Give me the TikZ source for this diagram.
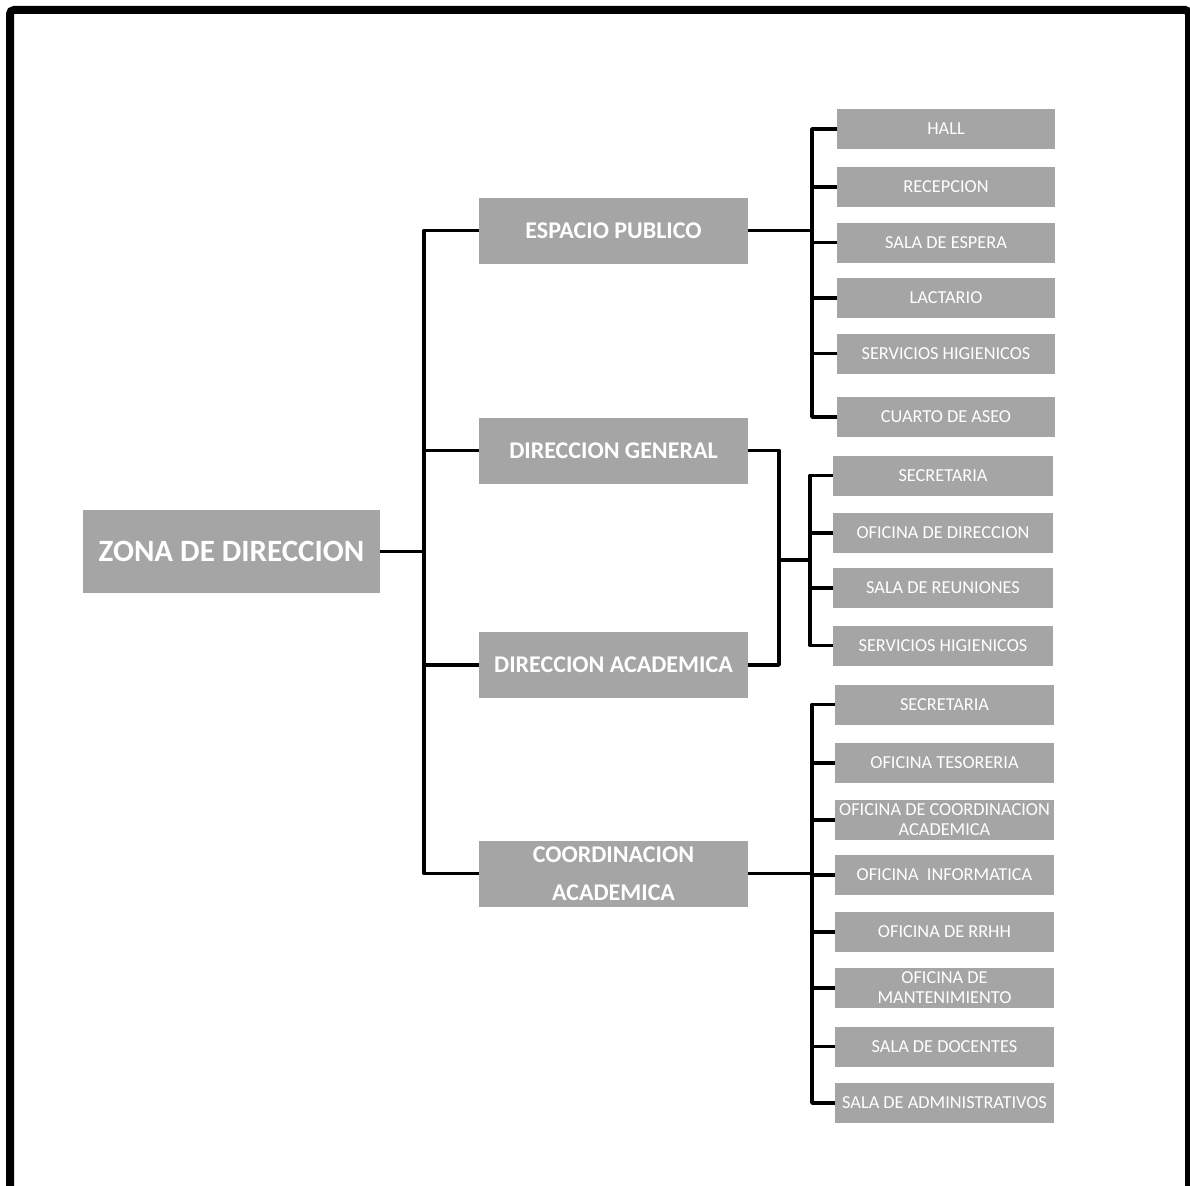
\documentclass[tikz,border=0pt]{standalone}
\usepackage{fontspec}
\setmainfont{Carlito}
\definecolor{boxgray}{RGB}{166,165,166}
\tikzset{
  zbox/.style={fill=boxgray, text=white, inner sep=0pt, align=center, font=\fontsize{31}{36}\selectfont\bfseries, minimum width=297pt, minimum height=83pt},
  lbox/.style={fill=boxgray, text=white, inner sep=0pt, align=center, font=\fontsize{24}{38}\selectfont\bfseries, minimum width=269pt, minimum height=66pt},
  cbox/.style={fill=boxgray, text=white, inner sep=0pt, align=center, font=\fontsize{18.3}{20}\selectfont, minimum height=40pt},
  conn/.style={line width=3.5pt, line join=round, draw=black},
}
\begin{document}
\begin{tikzpicture}[x=1pt,y=-1pt]
\useasboundingbox (0,0) rectangle (1190,1185);
% frame
\draw[line width=8pt, rounded corners=4pt] (10,1190) -- (10,10) -- (1189,10) -- (1189,1190);

% root
\node[zbox] (zona) at (231.5,551.5) {ZONA DE DIRECCION};

% level 2
\node[lbox] (ep) at (613.5,230.5) {ESPACIO PUBLICO};
\node[lbox] (dg) at (613.5,450.5) {DIRECCION GENERAL};
\node[lbox] (da) at (613.5,665) {DIRECCION ACADEMICA};
\node[lbox] (ca) at (613.5,873.5) {COORDINACION\\ACADEMICA};

% espacio publico children
\begin{scope}[every node/.append style={cbox, minimum width=218pt}]
\node (e1) at (946,129) {HALL};
\node (e2) at (946,187) {RECEPCION};
\node (e3) at (946,242.5) {SALA DE ESPERA};
\node (e4) at (946,298) {LACTARIO};
\node (e5) at (946,353.5) {SERVICIOS HIGIENICOS};
\node (e6) at (946,417) {CUARTO DE ASEO};
\end{scope}

% direccion children
\begin{scope}[every node/.append style={cbox, minimum width=220pt}]
\node (g1) at (943,475.5) {SECRETARIA};
\node (g2) at (943,533) {OFICINA DE DIRECCION};
\node (g3) at (943,588) {SALA DE REUNIONES};
\node (g4) at (943,645.5) {SERVICIOS HIGIENICOS};
\end{scope}

% coordinacion children
\begin{scope}[every node/.append style={cbox, minimum width=219pt}]
\node (c1) at (944.5,704.5) {SECRETARIA};
\node (c2) at (944.5,763) {OFICINA TESORERIA};
\node (c3) at (944.5,820) {OFICINA DE COORDINACION\\ACADEMICA};
\node (c4) at (944.5,875) {OFICINA\ \ INFORMATICA};
\node (c5) at (944.5,932) {OFICINA DE RRHH};
\node (c6) at (944.5,988) {OFICINA DE\\MANTENIMIENTO};
\node (c7) at (944.5,1046.5) {SALA DE DOCENTES};
\node (c8) at (944.5,1103) {SALA DE ADMINISTRATIVOS};
\end{scope}

% connector junctions
\coordinate (t1) at (424,551.5);
\coordinate (b1) at (812,230.5);
\coordinate (b2) at (779,560);
\coordinate (b3) at (810,560);
\coordinate (b4) at (812,873.5);

% root to level 2
\draw[conn] (zona.east) -- (t1);
\draw[conn] (ep.west) -| (t1) |- (ca.west);
\draw[conn] (dg.west) -- (dg.west -| t1);
\draw[conn] (da.west) -- (da.west -| t1);

% espacio publico branch
\draw[conn] (ep.east) -- (b1);
\draw[conn] (e1.west) -| (b1) |- (e6.west);
\foreach \n in {e2,e3,e4,e5} \draw[conn] (\n.west) -- (\n.west -| b1);

% direccion branch
\draw[conn] (dg.east) -| (b2) |- (da.east);
\draw[conn] (b2) -- (b3);
\draw[conn] (g1.west) -| (b3) |- (g4.west);
\foreach \n in {g2,g3} \draw[conn] (\n.west) -- (\n.west -| b3);

% coordinacion branch
\draw[conn] (ca.east) -- (ca.east -| b4);
\draw[conn] (c1.west) -| (b4) |- (c8.west);
\foreach \n in {c2,c3,c4,c5,c6,c7} \draw[conn] (\n.west) -- (\n.west -| b4);
\end{tikzpicture}
\end{document}
